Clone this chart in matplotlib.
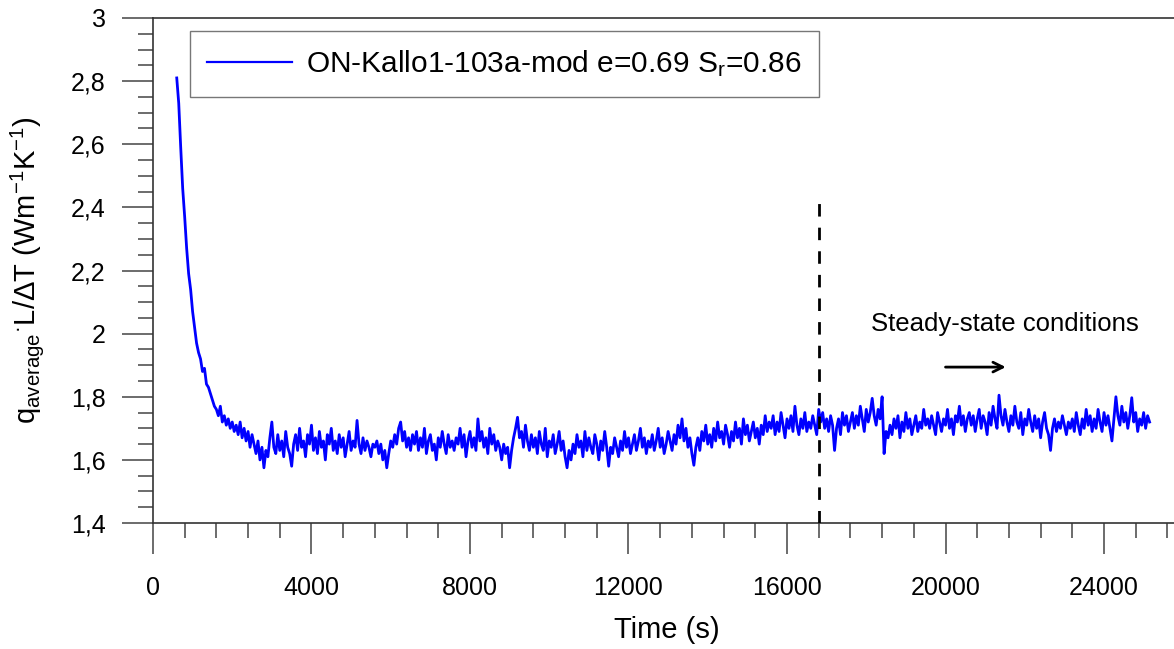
import numpy as np
import matplotlib
matplotlib.use("Agg")
import matplotlib.pyplot as plt
from matplotlib.ticker import MultipleLocator, FuncFormatter

plt.rcParams["font.family"] = ["Liberation Sans", "DejaVu Sans"]
plt.rcParams["mathtext.fontset"] = "custom"
plt.rcParams["mathtext.rm"] = "Liberation Sans"
plt.rcParams["mathtext.it"] = "Liberation Sans:italic"

t_start = 600
t_step = 50
conductivity = [
    2.81, 2.73, 2.59, 2.46, 2.37, 2.27, 2.19, 2.14, 2.07, 2.02, 1.97, 1.94, 1.92, 1.88, 1.89, 1.84, 1.83, 1.81, 1.79, 1.77,
    1.76, 1.74, 1.77, 1.72, 1.74, 1.71, 1.73, 1.70, 1.72, 1.69, 1.71, 1.68, 1.72, 1.67, 1.70, 1.66, 1.69, 1.64, 1.68, 1.65,
    1.62, 1.66, 1.60, 1.64, 1.575, 1.63, 1.61, 1.67, 1.72, 1.64, 1.62, 1.68, 1.63, 1.66, 1.61, 1.69, 1.64, 1.62, 1.58, 1.65,
    1.68, 1.63, 1.70, 1.64, 1.66, 1.61, 1.68, 1.65, 1.71, 1.63, 1.67, 1.62, 1.69, 1.64, 1.66, 1.60, 1.68, 1.65, 1.70, 1.63,
    1.66, 1.62, 1.68, 1.64, 1.67, 1.61, 1.65, 1.69, 1.63, 1.66, 1.64, 1.725, 1.65, 1.62, 1.67, 1.63, 1.66, 1.64, 1.61, 1.65,
    1.64, 1.66, 1.62, 1.65, 1.60, 1.63, 1.575, 1.62, 1.66, 1.64, 1.68, 1.65, 1.70, 1.72, 1.66, 1.69, 1.64, 1.67, 1.63, 1.68,
    1.65, 1.69, 1.63, 1.67, 1.64, 1.70, 1.62, 1.66, 1.68, 1.63, 1.65, 1.60, 1.67, 1.64, 1.69, 1.65, 1.62, 1.68, 1.64, 1.66,
    1.63, 1.67, 1.65, 1.70, 1.64, 1.68, 1.61, 1.66, 1.69, 1.64, 1.67, 1.63, 1.73, 1.66, 1.69, 1.64, 1.67, 1.62, 1.70, 1.65,
    1.68, 1.63, 1.66, 1.64, 1.60, 1.65, 1.62, 1.64, 1.575, 1.63, 1.67, 1.70, 1.735, 1.67, 1.69, 1.64, 1.71, 1.66, 1.63, 1.68,
    1.64, 1.67, 1.62, 1.69, 1.65, 1.63, 1.70, 1.61, 1.66, 1.64, 1.68, 1.62, 1.65, 1.69, 1.63, 1.66, 1.61, 1.575, 1.63, 1.60,
    1.65, 1.62, 1.68, 1.64, 1.66, 1.61, 1.69, 1.63, 1.67, 1.64, 1.62, 1.68, 1.65, 1.60, 1.66, 1.63, 1.69, 1.64, 1.58, 1.64,
    1.62, 1.67, 1.64, 1.61, 1.66, 1.63, 1.69, 1.64, 1.67, 1.62, 1.65, 1.68, 1.63, 1.66, 1.70, 1.64, 1.67, 1.62, 1.66, 1.64,
    1.68, 1.63, 1.66, 1.70, 1.64, 1.67, 1.62, 1.65, 1.69, 1.66, 1.63, 1.68, 1.65, 1.71, 1.67, 1.73, 1.66, 1.70, 1.64, 1.67,
    1.62, 1.583, 1.64, 1.67, 1.63, 1.69, 1.66, 1.71, 1.65, 1.68, 1.64, 1.70, 1.66, 1.72, 1.67, 1.69, 1.65, 1.71, 1.68, 1.64,
    1.69, 1.66, 1.72, 1.67, 1.70, 1.65, 1.73, 1.68, 1.71, 1.66, 1.69, 1.72, 1.67, 1.70, 1.65, 1.71, 1.68, 1.74, 1.69, 1.72,
    1.70, 1.74, 1.68, 1.72, 1.69, 1.75, 1.71, 1.67, 1.73, 1.70, 1.74, 1.69, 1.77, 1.71, 1.68, 1.73, 1.70, 1.75, 1.69, 1.72,
    1.70, 1.74, 1.71, 1.68, 1.76, 1.72, 1.75, 1.70, 1.73, 1.69, 1.74, 1.71, 1.63, 1.70, 1.73, 1.68, 1.75, 1.71, 1.74, 1.69,
    1.72, 1.75, 1.70, 1.74, 1.71, 1.77, 1.73, 1.69, 1.76, 1.72, 1.75, 1.795, 1.74, 1.71, 1.76, 1.73, 1.80, 1.62, 1.69, 1.67,
    1.71, 1.68, 1.73, 1.70, 1.74, 1.67, 1.72, 1.69, 1.75, 1.70, 1.73, 1.68, 1.71, 1.74, 1.69, 1.72, 1.70, 1.76, 1.71, 1.73,
    1.70, 1.74, 1.71, 1.68, 1.75, 1.72, 1.69, 1.73, 1.71, 1.76, 1.70, 1.73, 1.68, 1.74, 1.72, 1.77, 1.71, 1.74, 1.69, 1.73,
    1.75, 1.71, 1.74, 1.69, 1.73, 1.76, 1.70, 1.74, 1.72, 1.68, 1.75, 1.71, 1.77, 1.73, 1.70, 1.805, 1.74, 1.71, 1.76, 1.72,
    1.69, 1.74, 1.71, 1.77, 1.72, 1.70, 1.75, 1.68, 1.73, 1.71, 1.76, 1.72, 1.69, 1.74, 1.70, 1.73, 1.67, 1.72, 1.75, 1.70,
    1.68, 1.63, 1.70, 1.73, 1.69, 1.72, 1.70, 1.74, 1.71, 1.68, 1.72, 1.70, 1.73, 1.69, 1.75, 1.71, 1.68, 1.73, 1.70, 1.76,
    1.71, 1.74, 1.69, 1.73, 1.70, 1.76, 1.72, 1.69, 1.75, 1.71, 1.74, 1.70, 1.66, 1.73, 1.80, 1.74, 1.71, 1.77, 1.72, 1.75,
    1.70, 1.74, 1.797, 1.72, 1.75, 1.69, 1.73, 1.71, 1.75, 1.70, 1.74, 1.72,
]
series_label = "ON-Kallo1-103a-mod e=0.69 S$_{\\mathrm{r}}$=0.86"

steady_time = 16800      # start of steady state (s)
steady_line_top = 2.43
note_text = "Steady-state conditions"
note_pos = (21500, 2.03)
arrow_from = (20000, 1.894)
arrow_to = (21520, 1.894)

time = t_start + t_step * np.arange(len(conductivity))

fig = plt.figure(figsize=(11.74, 6.49), dpi=100)
ax = fig.add_axes([0.1303, 0.1941, 0.8697, 0.7782])

ax.plot(time, conductivity, color="#0000ff", lw=2.0, label=series_label, zorder=3)
ax.vlines(steady_time, 1.4, steady_line_top, colors="black", lw=2.0,
          linestyles=(0, (4.5, 4)), zorder=4)
ax.text(*note_pos, note_text, ha="center", va="center", fontsize=18.5, color="black")
ax.annotate("", xy=arrow_to, xytext=arrow_from,
            arrowprops=dict(arrowstyle="->,head_length=0.7,head_width=0.35",
                            color="black", lw=2.0, shrinkA=0, shrinkB=0))

ax.set_xlim(0, 25766)
ax.set_ylim(1.4, 3.0)
ax.xaxis.set_major_locator(MultipleLocator(4000))
ax.xaxis.set_minor_locator(MultipleLocator(800))
ax.yaxis.set_major_locator(MultipleLocator(0.2))
ax.yaxis.set_minor_locator(MultipleLocator(0.05))
ax.yaxis.set_major_formatter(FuncFormatter(lambda v, p: f"{v:g}".replace(".", ",")))

for s in ("left", "bottom", "top"):
    ax.spines[s].set_color("#333333")
    ax.spines[s].set_linewidth(1.2)
ax.spines["right"].set_visible(False)

ax.tick_params(which="major", direction="out", length=22, width=1.1, color="#444444",
               labelsize=18, labelcolor="black")
ax.tick_params(which="minor", direction="out", length=11, width=1.1, color="#444444")
ax.tick_params(axis="x", which="major", pad=16)
ax.tick_params(axis="y", which="major", pad=12)

ax.set_xlabel("Time (s)", fontsize=21)
ax.set_ylabel("q$_{\\mathrm{average}}{}^{\\mathrm{·}}$L/ΔT (Wm$^{\\mathrm{-1}}$K$^{\\mathrm{-1}}$)",
              fontsize=21)
ax.xaxis.set_label_coords(0.503, -0.185)
ax.yaxis.set_label_coords(-0.105, 0.5)

leg = ax.legend(loc="upper left", bbox_to_anchor=(0.0362, 0.974), borderaxespad=0,
                fontsize=21.5, frameon=True, fancybox=False, handlelength=2.85,
                handletextpad=0.47, borderpad=0.58)
leg.get_frame().set_edgecolor("#555555")
leg.get_frame().set_linewidth(1.0)
leg.get_lines()[0].set_linewidth(1.6)

fig.savefig("out.png", dpi=100, facecolor="white")
